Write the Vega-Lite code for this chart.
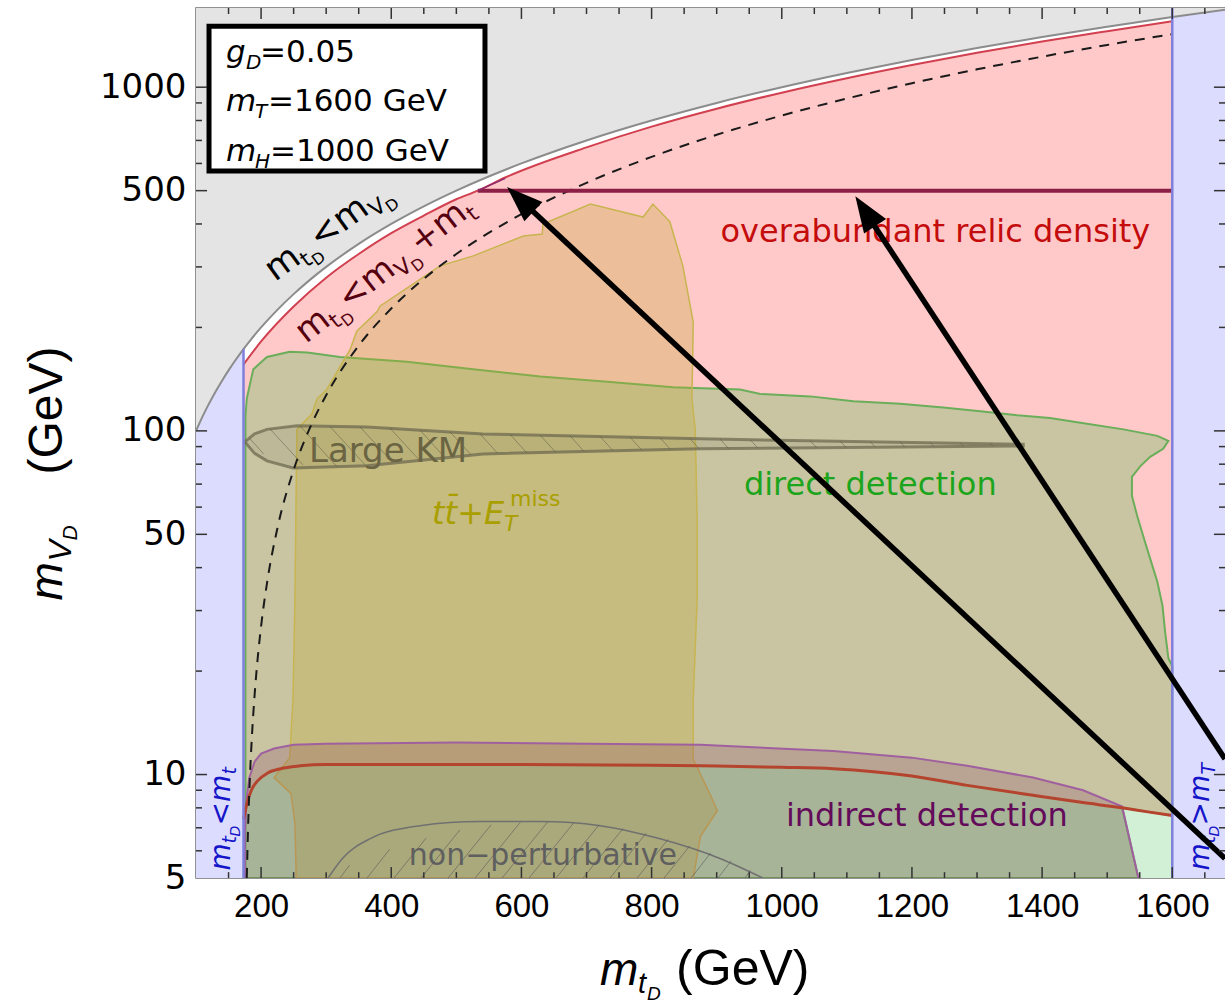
{
"$schema":"https://vega.github.io/schema/vega-lite/v6.json",
"width":1029,"height":870,"autosize":"none",
"padding":{"left":196,"top":8,"right":0,"bottom":125},
"background":"white",
"config":{"view":{"stroke":"#6e6e6e","strokeWidth":1.5},"axis":{"grid":false,"domain":false}},
"data":{"values":[{}]},
"datasets":{
"grayreg":[{"x":100,"y":100},{"x":110,"y":110},{"x":120,"y":120},{"x":130,"y":130},{"x":140,"y":140},{"x":150,"y":150},{"x":160,"y":160},{"x":173,"y":173},{"x":185,"y":185},{"x":200,"y":200},{"x":225,"y":225},{"x":250,"y":250},{"x":275,"y":275},{"x":300,"y":300},{"x":350,"y":350},{"x":400,"y":400},{"x":450,"y":450},{"x":500,"y":500},{"x":600,"y":600},{"x":700,"y":700},{"x":800,"y":800},{"x":900,"y":900},{"x":1000,"y":1000},{"x":1100,"y":1100},{"x":1200,"y":1200},{"x":1300,"y":1300},{"x":1400,"y":1400},{"x":1500,"y":1500},{"x":1600,"y":1600},{"x":1700,"y":1700},{"x":1700,"y":3000},{"x":100,"y":3000}],
"diag":[{"x":100,"y":100},{"x":110,"y":110},{"x":120,"y":120},{"x":130,"y":130},{"x":140,"y":140},{"x":150,"y":150},{"x":160,"y":160},{"x":173,"y":173},{"x":185,"y":185},{"x":200,"y":200},{"x":225,"y":225},{"x":250,"y":250},{"x":275,"y":275},{"x":300,"y":300},{"x":350,"y":350},{"x":400,"y":400},{"x":450,"y":450},{"x":500,"y":500},{"x":600,"y":600},{"x":700,"y":700},{"x":800,"y":800},{"x":900,"y":900},{"x":1000,"y":1000},{"x":1100,"y":1100},{"x":1200,"y":1200},{"x":1300,"y":1300},{"x":1400,"y":1400},{"x":1500,"y":1500},{"x":1600,"y":1600},{"x":1700,"y":1700}],
"blueL":[{"x":100,"y":5},{"x":173,"y":5},{"x":173,"y":173},{"x":160,"y":160},{"x":150,"y":150},{"x":140,"y":140},{"x":130,"y":130},{"x":120,"y":120},{"x":110,"y":110},{"x":100,"y":100}],
"blueR":[{"x":1600,"y":5},{"x":1700,"y":5},{"x":1700,"y":1700},{"x":1600,"y":1600}],
"greenbase":[{"x":173,"y":5},{"x":173,"y":7.4},{"x":178,"y":8.2},{"x":185,"y":9.0},{"x":195,"y":9.6},{"x":210,"y":10.1},{"x":230,"y":10.4},{"x":260,"y":10.6},{"x":300,"y":10.7},{"x":400,"y":10.7},{"x":600,"y":10.7},{"x":800,"y":10.65},{"x":875,"y":10.6},{"x":1000,"y":10.5},{"x":1079,"y":10.4},{"x":1200,"y":9.9},{"x":1285,"y":9.3},{"x":1386,"y":8.7},{"x":1460,"y":8.3},{"x":1523,"y":8.0},{"x":1560,"y":7.8},{"x":1600,"y":7.6},{"x":1600,"y":5}],
"redlow":[{"x":173,"y":7.4},{"x":178,"y":8.2},{"x":185,"y":9.0},{"x":195,"y":9.6},{"x":210,"y":10.1},{"x":230,"y":10.4},{"x":260,"y":10.6},{"x":300,"y":10.7},{"x":400,"y":10.7},{"x":600,"y":10.7},{"x":800,"y":10.65},{"x":875,"y":10.6},{"x":1000,"y":10.5},{"x":1079,"y":10.4},{"x":1200,"y":9.9},{"x":1285,"y":9.3},{"x":1386,"y":8.7},{"x":1460,"y":8.3},{"x":1523,"y":8.0},{"x":1560,"y":7.8},{"x":1600,"y":7.6}],
"redup":[{"x":173,"y":156},{"x":200,"y":182},{"x":250,"y":230},{"x":300,"y":279},{"x":350,"y":327},{"x":400,"y":376},{"x":450,"y":423},{"x":500,"y":472},{"x":533,"y":500},{"x":575,"y":546},{"x":700,"y":668},{"x":800,"y":768},{"x":900,"y":866},{"x":1000,"y":964},{"x":1100,"y":1062},{"x":1200,"y":1160},{"x":1300,"y":1260},{"x":1400,"y":1358},{"x":1500,"y":1455},{"x":1600,"y":1555}],
"pink":[{"x":173,"y":7.4},{"x":178,"y":8.2},{"x":185,"y":9.0},{"x":195,"y":9.6},{"x":210,"y":10.1},{"x":230,"y":10.4},{"x":260,"y":10.6},{"x":300,"y":10.7},{"x":400,"y":10.7},{"x":600,"y":10.7},{"x":800,"y":10.65},{"x":875,"y":10.6},{"x":1000,"y":10.5},{"x":1079,"y":10.4},{"x":1200,"y":9.9},{"x":1285,"y":9.3},{"x":1386,"y":8.7},{"x":1460,"y":8.3},{"x":1523,"y":8.0},{"x":1560,"y":7.8},{"x":1600,"y":7.6},{"x":1600,"y":1555},{"x":1500,"y":1455},{"x":1400,"y":1358},{"x":1300,"y":1260},{"x":1200,"y":1160},{"x":1100,"y":1062},{"x":1000,"y":964},{"x":900,"y":866},{"x":800,"y":768},{"x":700,"y":668},{"x":575,"y":546},{"x":533,"y":500},{"x":500,"y":472},{"x":450,"y":423},{"x":400,"y":376},{"x":350,"y":327},{"x":300,"y":279},{"x":250,"y":230},{"x":200,"y":182},{"x":173,"y":156}],
"direct":[{"x":176,"y":5},{"x":176,"y":110},{"x":178,"y":124},{"x":188,"y":151},{"x":209,"y":164},{"x":244,"y":170},{"x":271,"y":169},{"x":321,"y":164},{"x":424,"y":159},{"x":526,"y":151},{"x":629,"y":144},{"x":732,"y":139},{"x":833,"y":134},{"x":936,"y":132},{"x":967,"y":128},{"x":1044,"y":126},{"x":1110,"y":122},{"x":1182,"y":120},{"x":1248,"y":117},{"x":1305,"y":114},{"x":1362,"y":111},{"x":1412,"y":109},{"x":1454,"y":106},{"x":1525,"y":101},{"x":1577,"y":96.7},{"x":1594,"y":93.5},{"x":1586,"y":88.7},{"x":1566,"y":84},{"x":1551,"y":79},{"x":1538,"y":73.5},{"x":1538,"y":64.7},{"x":1546,"y":56.6},{"x":1558,"y":47.6},{"x":1566,"y":42.5},{"x":1577,"y":36.4},{"x":1585,"y":31},{"x":1589,"y":26},{"x":1594,"y":21.8},{"x":1600,"y":20.7},{"x":1600,"y":7.6},{"x":1523,"y":8.0},{"x":1548,"y":5},{"x":176,"y":5}],
"yellow":[{"x":286,"y":124},{"x":301,"y":132},{"x":337,"y":173},{"x":347,"y":195},{"x":378,"y":222},{"x":383,"y":231},{"x":475,"y":302},{"x":526,"y":323},{"x":603,"y":369},{"x":632,"y":374},{"x":633,"y":400},{"x":706,"y":457},{"x":787,"y":419},{"x":802,"y":457},{"x":828,"y":406},{"x":848,"y":302},{"x":864,"y":207},{"x":862,"y":124},{"x":867,"y":101},{"x":870,"y":55.5},{"x":870,"y":32.5},{"x":864,"y":16.6},{"x":864,"y":11.1},{"x":893,"y":8.5},{"x":901,"y":7.85},{"x":875,"y":6.6},{"x":864,"y":5},{"x":254,"y":5},{"x":252,"y":7.2},{"x":246,"y":8.8},{"x":220,"y":9.8},{"x":244,"y":11.2},{"x":249,"y":16.6},{"x":252,"y":32.5},{"x":255,"y":101},{"x":278,"y":112},{"x":286,"y":124}],
"indirect":[{"x":175,"y":5},{"x":175,"y":6.8},{"x":178,"y":8.6},{"x":182,"y":9.8},{"x":190,"y":10.9},{"x":200,"y":11.5},{"x":220,"y":11.9},{"x":250,"y":12.2},{"x":300,"y":12.3},{"x":500,"y":12.4},{"x":700,"y":12.3},{"x":875,"y":12.2},{"x":1079,"y":11.7},{"x":1200,"y":11.2},{"x":1285,"y":10.6},{"x":1386,"y":9.8},{"x":1463,"y":9.0},{"x":1523,"y":8.07},{"x":1548,"y":5}],
"lens":[{"x":175,"y":92.9},{"x":190,"y":98},{"x":209,"y":101},{"x":255,"y":103.5},{"x":363,"y":102.7},{"x":541,"y":98},{"x":875,"y":94.8},{"x":1371,"y":91.4},{"x":1371,"y":90.4},{"x":875,"y":88.7},{"x":541,"y":85.7},{"x":363,"y":79.1},{"x":249,"y":78},{"x":209,"y":81.8},{"x":190,"y":86},{"x":175,"y":92.9}],
"nonpert":[{"x":303,"y":5},{"x":325,"y":5.7},{"x":367,"y":6.5},{"x":444,"y":7.1},{"x":536,"y":7.3},{"x":629,"y":7.3},{"x":721,"y":7.1},{"x":813,"y":6.5},{"x":905,"y":5.7},{"x":971,"y":5}],
"hatchNP":[{"x":321.3,"y":5,"x2":335.9,"y2":5.45},{"x":362.8,"y":5,"x2":397.5,"y2":6.06},{"x":404.3,"y":5,"x2":453.8,"y2":6.54},{"x":445.8,"y":5,"x2":505.4,"y2":6.9},{"x":487.3,"y":5,"x2":553.4,"y2":7.14},{"x":528.8,"y":5,"x2":598.2,"y2":7.26},{"x":570.3,"y":5,"x2":640.6,"y2":7.29},{"x":611.8,"y":5,"x2":680.9,"y2":7.26},{"x":653.3,"y":5,"x2":719.3,"y2":7.14},{"x":694.7,"y":5,"x2":756.2,"y2":6.97},{"x":736.2,"y":5,"x2":791.6,"y2":6.75},{"x":777.7,"y":5,"x2":825.4,"y2":6.48},{"x":819.2,"y":5,"x2":858.6,"y2":6.2},{"x":860.7,"y":5,"x2":890.7,"y2":5.91},{"x":902.2,"y":5,"x2":922.2,"y2":5.61},{"x":943.7,"y":5,"x2":951.8,"y2":5.27}],
"hatchKM":[{"x":183,"y":94.8,"x2":203.9,"y2":85.7},{"x":213.7,"y":101.3,"x2":264.4,"y2":79.6},{"x":259.8,"y":103.4,"x2":316.7,"y2":78.6},{"x":305.9,"y":103.0,"x2":361.3,"y2":79.1},{"x":352,"y":102.7,"x2":402.8,"y2":80.7},{"x":398.1,"y":101.8,"x2":442.7,"y2":82.4},{"x":444.2,"y":100.5,"x2":482.7,"y2":83.5},{"x":490.3,"y":99.3,"x2":522.6,"y2":85.2},{"x":536.4,"y":98.0,"x2":563.3,"y2":86.1},{"x":582.6,"y":97.6,"x2":608.2,"y2":86.3},{"x":628.7,"y":97.2,"x2":652.5,"y2":86.7},{"x":674.8,"y":96.7,"x2":696.3,"y2":87.1},{"x":720.9,"y":96.3,"x2":740.8,"y2":87.5},{"x":767,"y":95.8,"x2":785,"y2":87.9},{"x":813.1,"y":95.4,"x2":829.2,"y2":88.3},{"x":859.2,"y":94.9,"x2":873,"y2":88.7},{"x":905.3,"y":94.6,"x2":918.4,"y2":88.8},{"x":951.4,"y":94.3,"x2":963.7,"y2":88.9},{"x":997.5,"y":94.0,"x2":1008.9,"y2":89.1},{"x":1043.6,"y":93.7,"x2":1053.8,"y2":89.2},{"x":1089.7,"y":93.4,"x2":1098.9,"y2":89.4},{"x":1135.8,"y":93.1,"x2":1143.9,"y2":89.6},{"x":1181.9,"y":92.8,"x2":1188.8,"y2":89.8},{"x":1228,"y":92.5,"x2":1234.2,"y2":89.9},{"x":1274.1,"y":92.3,"x2":1279.2,"y2":90.1},{"x":1320.2,"y":92.0,"x2":1324.1,"y2":90.3}],
"dashed":[{"x":178,"y":5},{"x":180,"y":7},{"x":183,"y":10},{"x":186,"y":13},{"x":190,"y":17},{"x":195,"y":22},{"x":200,"y":27},{"x":210,"y":37},{"x":225,"y":52},{"x":250,"y":77},{"x":275,"y":102},{"x":300,"y":127},{"x":350,"y":177},{"x":400,"y":227},{"x":450,"y":277},{"x":500,"y":327},{"x":600,"y":427},{"x":700,"y":527},{"x":800,"y":627},{"x":900,"y":727},{"x":1000,"y":827},{"x":1100,"y":927},{"x":1200,"y":1027},{"x":1300,"y":1127},{"x":1400,"y":1227},{"x":1500,"y":1327},{"x":1600,"y":1427}],
"line500":[{"x":533,"y":500},{"x":1600,"y":500}],
"sliver":[{"x":533,"y":500},{"x":575,"y":543}],
"bluelines":[{"x":173,"y":5,"g":"a"},{"x":173,"y":173,"g":"a"},{"x":1600,"y":5,"g":"b"},{"x":1600,"y":1700,"g":"b"}],
"arrowA":[{"x":1681,"y":11.1},{"x":1129.6,"y":430}],
"arrowB":[{"x":1681,"y":5.7},{"x":600.4,"y":467}],
"xmaj":[{"v":200},{"v":400},{"v":600},{"v":800},{"v":1000},{"v":1200},{"v":1400},{"v":1600}],
"xmin":[{"v":150},{"v":250},{"v":300},{"v":350},{"v":450},{"v":500},{"v":550},{"v":650},{"v":700},{"v":750},{"v":850},{"v":900},{"v":950},{"v":1050},{"v":1100},{"v":1150},{"v":1250},{"v":1300},{"v":1350},{"v":1450},{"v":1500},{"v":1550},{"v":1650}],
"ymaj":[{"v":10},{"v":50},{"v":100},{"v":500},{"v":1000}],
"ymin":[{"v":6},{"v":7},{"v":8},{"v":9},{"v":20},{"v":30},{"v":40},{"v":60},{"v":70},{"v":80},{"v":90},{"v":200},{"v":300},{"v":400},{"v":600},{"v":700},{"v":800},{"v":900}]
},
"layer":[
{"data":{"name":"grayreg"},"transform":[{"window":[{"op":"row_number","as":"i"}]}],"mark":{"type":"line","fill":"#e4e4e4","stroke":"#e4e4e4","strokeWidth":0.5,"clip":true},"encoding":{"x":{"field":"x","type":"quantitative","scale":{"domain":[100,1681],"nice":false,"zero":false},"axis":null},"y":{"field":"y","type":"quantitative","scale":{"type":"log","domain":[5,1700],"nice":false},"axis":null},"order":{"field":"i","type":"quantitative"}}},
{"data":{"name":"blueL"},"transform":[{"window":[{"op":"row_number","as":"i"}]}],"mark":{"type":"line","fill":"#dcdcff","stroke":"#dcdcff","strokeWidth":0.5,"clip":true},"encoding":{"x":{"field":"x","type":"quantitative","axis":null},"y":{"field":"y","type":"quantitative","axis":null},"order":{"field":"i","type":"quantitative"}}},
{"data":{"name":"blueR"},"transform":[{"window":[{"op":"row_number","as":"i"}]}],"mark":{"type":"line","fill":"#dcdcff","stroke":"#dcdcff","strokeWidth":0.5,"clip":true},"encoding":{"x":{"field":"x","type":"quantitative","axis":null},"y":{"field":"y","type":"quantitative","axis":null},"order":{"field":"i","type":"quantitative"}}},
{"data":{"name":"greenbase"},"transform":[{"window":[{"op":"row_number","as":"i"}]}],"mark":{"type":"line","fill":"#d2f0d6","stroke":"#d2f0d6","strokeWidth":0.5,"clip":true},"encoding":{"x":{"field":"x","type":"quantitative","axis":null},"y":{"field":"y","type":"quantitative","axis":null},"order":{"field":"i","type":"quantitative"}}},
{"data":{"name":"pink"},"transform":[{"window":[{"op":"row_number","as":"i"}]}],"mark":{"type":"line","fill":"#ffc9c9","stroke":"#ffc9c9","strokeWidth":0.5,"clip":true},"encoding":{"x":{"field":"x","type":"quantitative","axis":null},"y":{"field":"y","type":"quantitative","axis":null},"order":{"field":"i","type":"quantitative"}}},
{"data":{"name":"direct"},"transform":[{"window":[{"op":"row_number","as":"i"}]}],"mark":{"type":"line","fill":"#87c174","fillOpacity":0.45,"stroke":"#6aae5a","strokeWidth":2,"clip":true},"encoding":{"x":{"field":"x","type":"quantitative","axis":null},"y":{"field":"y","type":"quantitative","axis":null},"order":{"field":"i","type":"quantitative"}}},
{"data":{"name":"yellow"},"transform":[{"window":[{"op":"row_number","as":"i"}]}],"mark":{"type":"line","fill":"#c0a830","fillOpacity":0.3,"stroke":"#c8b450","strokeWidth":1.5,"clip":true},"encoding":{"x":{"field":"x","type":"quantitative","axis":null},"y":{"field":"y","type":"quantitative","axis":null},"order":{"field":"i","type":"quantitative"}}},
{"data":{"name":"indirect"},"transform":[{"window":[{"op":"row_number","as":"i"}]}],"mark":{"type":"line","fill":"#8d3f64","fillOpacity":0.25,"stroke":"#a060a0","strokeWidth":2,"clip":true},"encoding":{"x":{"field":"x","type":"quantitative","axis":null},"y":{"field":"y","type":"quantitative","axis":null},"order":{"field":"i","type":"quantitative"}}},
{"data":{"name":"nonpert"},"mark":{"type":"line","stroke":"#707070","strokeWidth":1.5,"interpolate":"monotone","clip":true},"encoding":{"x":{"field":"x","type":"quantitative","axis":null},"y":{"field":"y","type":"quantitative","axis":null}}},
{"data":{"name":"hatchNP"},"mark":{"type":"rule","stroke":"#5a5a5a","strokeWidth":1,"opacity":0.6,"clip":true},"encoding":{"x":{"field":"x","type":"quantitative","axis":null},"y":{"field":"y","type":"quantitative","axis":null},"x2":{"field":"x2"},"y2":{"field":"y2"}}},
{"data":{"name":"lens"},"transform":[{"window":[{"op":"row_number","as":"i"}]}],"mark":{"type":"line","fill":"#5a5a40","fillOpacity":0.1,"stroke":"#6e6a50","strokeOpacity":0.75,"strokeWidth":3,"clip":true},"encoding":{"x":{"field":"x","type":"quantitative","axis":null},"y":{"field":"y","type":"quantitative","axis":null},"order":{"field":"i","type":"quantitative"}}},
{"data":{"name":"hatchKM"},"mark":{"type":"rule","stroke":"#5a5840","strokeWidth":1,"opacity":0.5,"clip":true},"encoding":{"x":{"field":"x","type":"quantitative","axis":null},"y":{"field":"y","type":"quantitative","axis":null},"x2":{"field":"x2"},"y2":{"field":"y2"}}},
{"data":{"name":"redlow"},"mark":{"type":"line","stroke":"#b5442e","strokeWidth":3,"interpolate":"monotone","clip":true},"encoding":{"x":{"field":"x","type":"quantitative","axis":null},"y":{"field":"y","type":"quantitative","axis":null}}},
{"data":{"name":"redup"},"mark":{"type":"line","stroke":"#d24050","strokeWidth":2,"interpolate":"monotone","clip":true},"encoding":{"x":{"field":"x","type":"quantitative","axis":null},"y":{"field":"y","type":"quantitative","axis":null}}},
{"data":{"name":"diag"},"mark":{"type":"line","stroke":"#8c8c8c","strokeWidth":2,"interpolate":"monotone","clip":true},"encoding":{"x":{"field":"x","type":"quantitative","axis":null},"y":{"field":"y","type":"quantitative","axis":null}}},
{"data":{"name":"dashed"},"mark":{"type":"line","stroke":"#1a1a1a","strokeWidth":2,"strokeDash":[10,8],"interpolate":"monotone","clip":true},"encoding":{"x":{"field":"x","type":"quantitative","axis":null},"y":{"field":"y","type":"quantitative","axis":null}}},
{"data":{"name":"line500"},"mark":{"type":"line","stroke":"#8c1f45","strokeWidth":4,"clip":true},"encoding":{"x":{"field":"x","type":"quantitative","axis":null},"y":{"field":"y","type":"quantitative","axis":null}}},
{"data":{"name":"sliver"},"mark":{"type":"line","stroke":"#8c2a70","strokeWidth":1.5,"clip":true},"encoding":{"x":{"field":"x","type":"quantitative","axis":null},"y":{"field":"y","type":"quantitative","axis":null}}},
{"data":{"name":"bluelines"},"mark":{"type":"line","stroke":"#7f7fdc","strokeWidth":2.5,"clip":true},"encoding":{"x":{"field":"x","type":"quantitative","axis":null},"y":{"field":"y","type":"quantitative","axis":null},"detail":{"field":"g","type":"nominal"}}},
{"mark":{"type":"text","text":"overabundant relic density","font":"DejaVu Sans","fontSize":32,"color":"#c40c0c","align":"center","baseline":"middle"},"encoding":{"x":{"datum":1236,"type":"quantitative","axis":null},"y":{"datum":379,"type":"quantitative","axis":null}}},
{"mark":{"type":"text","text":"direct detection","font":"DejaVu Sans","fontSize":32,"color":"#1ca51c","align":"center","baseline":"middle"},"encoding":{"x":{"datum":1136,"type":"quantitative","axis":null},"y":{"datum":69.7,"type":"quantitative","axis":null}}},
{"mark":{"type":"text","text":"indirect detection","font":"DejaVu Sans","fontSize":32,"color":"#640a5a","align":"center","baseline":"middle"},"encoding":{"x":{"datum":1223,"type":"quantitative","axis":null},"y":{"datum":7.55,"type":"quantitative","axis":null}}},
{"mark":{"type":"text","text":"non−perturbative","font":"DejaVu Sans","fontSize":30,"color":"#5f5f5f","align":"center","baseline":"middle"},"encoding":{"x":{"datum":633,"type":"quantitative","axis":null},"y":{"datum":5.8,"type":"quantitative","axis":null}}},
{"mark":{"type":"text","text":"Large KM","font":"DejaVu Sans","fontSize":34,"color":"#6a6442","align":"center","baseline":"middle"},"encoding":{"x":{"datum":395,"type":"quantitative","axis":null},"y":{"datum":86.9,"type":"quantitative","axis":null}}},
{"mark":{"type":"text","text":"tt̄+E","font":"DejaVu Sans","fontStyle":"italic","fontSize":32,"color":"#a99f00","align":"left","baseline":"alphabetic"},"encoding":{"x":{"datum":462.7,"type":"quantitative","axis":null},"y":{"datum":53.7,"type":"quantitative","axis":null}}},
{"mark":{"type":"text","text":"T","font":"DejaVu Sans","fontStyle":"italic","fontSize":22,"color":"#a99f00","align":"left","baseline":"alphabetic","dx":72,"dy":7},"encoding":{"x":{"datum":462.7,"type":"quantitative","axis":null},"y":{"datum":53.7,"type":"quantitative","axis":null}}},
{"mark":{"type":"text","text":"miss","font":"DejaVu Sans","fontSize":22,"color":"#a99f00","align":"left","baseline":"alphabetic","dx":78,"dy":-18},"encoding":{"x":{"datum":462.7,"type":"quantitative","axis":null},"y":{"datum":53.7,"type":"quantitative","axis":null}}},
{"mark":{"type":"text","text":"m","font":"DejaVu Sans","fontSize":35,"color":"#000","align":"left","baseline":"alphabetic","angle":-36},"encoding":{"x":{"datum":221.4,"type":"quantitative","axis":null},"y":{"datum":271,"type":"quantitative","axis":null}}},
{"mark":{"type":"text","text":"t","font":"DejaVu Sans","fontSize":22,"color":"#000","align":"left","baseline":"alphabetic","angle":-36,"dx":34,"dy":7},"encoding":{"x":{"datum":221.4,"type":"quantitative","axis":null},"y":{"datum":271,"type":"quantitative","axis":null}}},
{"mark":{"type":"text","text":"D","font":"DejaVu Sans","fontSize":16,"color":"#000","align":"left","baseline":"alphabetic","angle":-36,"dx":43,"dy":12},"encoding":{"x":{"datum":221.4,"type":"quantitative","axis":null},"y":{"datum":271,"type":"quantitative","axis":null}}},
{"mark":{"type":"text","text":"<m","font":"DejaVu Sans","fontSize":35,"color":"#000","align":"left","baseline":"alphabetic","angle":-36,"dx":55},"encoding":{"x":{"datum":221.4,"type":"quantitative","axis":null},"y":{"datum":271,"type":"quantitative","axis":null}}},
{"mark":{"type":"text","text":"V","font":"DejaVu Sans","fontSize":22,"color":"#000","align":"left","baseline":"alphabetic","angle":-36,"dx":119,"dy":7},"encoding":{"x":{"datum":221.4,"type":"quantitative","axis":null},"y":{"datum":271,"type":"quantitative","axis":null}}},
{"mark":{"type":"text","text":"D","font":"DejaVu Sans","fontSize":16,"color":"#000","align":"left","baseline":"alphabetic","angle":-36,"dx":134,"dy":12},"encoding":{"x":{"datum":221.4,"type":"quantitative","axis":null},"y":{"datum":271,"type":"quantitative","axis":null}}},
{"mark":{"type":"text","text":"m","font":"DejaVu Sans","fontSize":34,"color":"#55000f","align":"left","baseline":"alphabetic","angle":-38},"encoding":{"x":{"datum":269,"type":"quantitative","axis":null},"y":{"datum":179,"type":"quantitative","axis":null}}},
{"mark":{"type":"text","text":"t","font":"DejaVu Sans","fontSize":22,"color":"#55000f","align":"left","baseline":"alphabetic","angle":-38,"dx":33,"dy":7},"encoding":{"x":{"datum":269,"type":"quantitative","axis":null},"y":{"datum":179,"type":"quantitative","axis":null}}},
{"mark":{"type":"text","text":"D","font":"DejaVu Sans","fontSize":16,"color":"#55000f","align":"left","baseline":"alphabetic","angle":-38,"dx":42,"dy":12},"encoding":{"x":{"datum":269,"type":"quantitative","axis":null},"y":{"datum":179,"type":"quantitative","axis":null}}},
{"mark":{"type":"text","text":"<m","font":"DejaVu Sans","fontSize":34,"color":"#55000f","align":"left","baseline":"alphabetic","angle":-38,"dx":54},"encoding":{"x":{"datum":269,"type":"quantitative","axis":null},"y":{"datum":179,"type":"quantitative","axis":null}}},
{"mark":{"type":"text","text":"V","font":"DejaVu Sans","fontSize":22,"color":"#55000f","align":"left","baseline":"alphabetic","angle":-38,"dx":116,"dy":7},"encoding":{"x":{"datum":269,"type":"quantitative","axis":null},"y":{"datum":179,"type":"quantitative","axis":null}}},
{"mark":{"type":"text","text":"D","font":"DejaVu Sans","fontSize":16,"color":"#55000f","align":"left","baseline":"alphabetic","angle":-38,"dx":131,"dy":12},"encoding":{"x":{"datum":269,"type":"quantitative","axis":null},"y":{"datum":179,"type":"quantitative","axis":null}}},
{"mark":{"type":"text","text":"+m","font":"DejaVu Sans","fontSize":34,"color":"#55000f","align":"left","baseline":"alphabetic","angle":-38,"dx":145},"encoding":{"x":{"datum":269,"type":"quantitative","axis":null},"y":{"datum":179,"type":"quantitative","axis":null}}},
{"mark":{"type":"text","text":"t","font":"DejaVu Sans","fontSize":22,"color":"#55000f","align":"left","baseline":"alphabetic","angle":-38,"dx":207,"dy":7},"encoding":{"x":{"datum":269,"type":"quantitative","axis":null},"y":{"datum":179,"type":"quantitative","axis":null}}},
{"mark":{"type":"text","text":"m","font":"DejaVu Sans","fontStyle":"italic","fontSize":28,"color":"#1414c8","align":"left","baseline":"alphabetic","angle":-90},"encoding":{"x":{"datum":152,"type":"quantitative","axis":null},"y":{"datum":5.26,"type":"quantitative","axis":null}}},
{"mark":{"type":"text","text":"t","font":"DejaVu Sans","fontStyle":"italic","fontSize":19,"color":"#1414c8","align":"left","baseline":"alphabetic","angle":-90,"dx":27,"dy":6},"encoding":{"x":{"datum":152,"type":"quantitative","axis":null},"y":{"datum":5.26,"type":"quantitative","axis":null}}},
{"mark":{"type":"text","text":"D","font":"DejaVu Sans","fontStyle":"italic","fontSize":14,"color":"#1414c8","align":"left","baseline":"alphabetic","angle":-90,"dx":34,"dy":10},"encoding":{"x":{"datum":152,"type":"quantitative","axis":null},"y":{"datum":5.26,"type":"quantitative","axis":null}}},
{"mark":{"type":"text","text":"<m","font":"DejaVu Sans","fontStyle":"italic","fontSize":28,"color":"#1414c8","align":"left","baseline":"alphabetic","angle":-90,"dx":45},"encoding":{"x":{"datum":152,"type":"quantitative","axis":null},"y":{"datum":5.26,"type":"quantitative","axis":null}}},
{"mark":{"type":"text","text":"t","font":"DejaVu Sans","fontStyle":"italic","fontSize":19,"color":"#1414c8","align":"left","baseline":"alphabetic","angle":-90,"dx":96,"dy":6},"encoding":{"x":{"datum":152,"type":"quantitative","axis":null},"y":{"datum":5.26,"type":"quantitative","axis":null}}},
{"mark":{"type":"text","text":"m","font":"DejaVu Sans","fontStyle":"italic","fontSize":28,"color":"#1414c8","align":"left","baseline":"alphabetic","angle":-90},"encoding":{"x":{"datum":1657,"type":"quantitative","axis":null},"y":{"datum":5.26,"type":"quantitative","axis":null}}},
{"mark":{"type":"text","text":"t","font":"DejaVu Sans","fontStyle":"italic","fontSize":19,"color":"#1414c8","align":"left","baseline":"alphabetic","angle":-90,"dx":27,"dy":6},"encoding":{"x":{"datum":1657,"type":"quantitative","axis":null},"y":{"datum":5.26,"type":"quantitative","axis":null}}},
{"mark":{"type":"text","text":"D","font":"DejaVu Sans","fontStyle":"italic","fontSize":14,"color":"#1414c8","align":"left","baseline":"alphabetic","angle":-90,"dx":34,"dy":10},"encoding":{"x":{"datum":1657,"type":"quantitative","axis":null},"y":{"datum":5.26,"type":"quantitative","axis":null}}},
{"mark":{"type":"text","text":">m","font":"DejaVu Sans","fontStyle":"italic","fontSize":28,"color":"#1414c8","align":"left","baseline":"alphabetic","angle":-90,"dx":45},"encoding":{"x":{"datum":1657,"type":"quantitative","axis":null},"y":{"datum":5.26,"type":"quantitative","axis":null}}},
{"mark":{"type":"text","text":"T","font":"DejaVu Sans","fontStyle":"italic","fontSize":19,"color":"#1414c8","align":"left","baseline":"alphabetic","angle":-90,"dx":96,"dy":6},"encoding":{"x":{"datum":1657,"type":"quantitative","axis":null},"y":{"datum":5.26,"type":"quantitative","axis":null}}},
{"mark":{"type":"rect","fill":"white","stroke":"black","strokeWidth":5},"encoding":{"x":{"datum":120,"type":"quantitative","axis":null},"x2":{"datum":544},"y":{"datum":1504,"type":"quantitative","axis":null},"y2":{"datum":570}}},
{"mark":{"type":"text","text":"g","font":"DejaVu Sans","fontStyle":"italic","fontSize":31,"color":"#000","align":"left","baseline":"alphabetic"},"encoding":{"x":{"datum":146,"type":"quantitative","axis":null},"y":{"datum":1182,"type":"quantitative","axis":null}}},
{"mark":{"type":"text","text":"D","font":"DejaVu Sans","fontStyle":"italic","fontSize":20,"color":"#000","align":"left","baseline":"alphabetic","dx":20,"dy":7},"encoding":{"x":{"datum":146,"type":"quantitative","axis":null},"y":{"datum":1182,"type":"quantitative","axis":null}}},
{"mark":{"type":"text","text":"=0.05","font":"DejaVu Sans","fontSize":31,"color":"#000","align":"left","baseline":"alphabetic","dx":34},"encoding":{"x":{"datum":146,"type":"quantitative","axis":null},"y":{"datum":1182,"type":"quantitative","axis":null}}},
{"mark":{"type":"text","text":"m","font":"DejaVu Sans","fontStyle":"italic","fontSize":31,"color":"#000","align":"left","baseline":"alphabetic"},"encoding":{"x":{"datum":146,"type":"quantitative","axis":null},"y":{"datum":852,"type":"quantitative","axis":null}}},
{"mark":{"type":"text","text":"T","font":"DejaVu Sans","fontStyle":"italic","fontSize":20,"color":"#000","align":"left","baseline":"alphabetic","dx":29,"dy":7},"encoding":{"x":{"datum":146,"type":"quantitative","axis":null},"y":{"datum":852,"type":"quantitative","axis":null}}},
{"mark":{"type":"text","text":"=1600 GeV","font":"DejaVu Sans","fontSize":31,"color":"#000","align":"left","baseline":"alphabetic","dx":42},"encoding":{"x":{"datum":146,"type":"quantitative","axis":null},"y":{"datum":852,"type":"quantitative","axis":null}}},
{"mark":{"type":"text","text":"m","font":"DejaVu Sans","fontStyle":"italic","fontSize":31,"color":"#000","align":"left","baseline":"alphabetic"},"encoding":{"x":{"datum":146,"type":"quantitative","axis":null},"y":{"datum":609,"type":"quantitative","axis":null}}},
{"mark":{"type":"text","text":"H","font":"DejaVu Sans","fontStyle":"italic","fontSize":20,"color":"#000","align":"left","baseline":"alphabetic","dx":29,"dy":7},"encoding":{"x":{"datum":146,"type":"quantitative","axis":null},"y":{"datum":609,"type":"quantitative","axis":null}}},
{"mark":{"type":"text","text":"=1000 GeV","font":"DejaVu Sans","fontSize":31,"color":"#000","align":"left","baseline":"alphabetic","dx":44},"encoding":{"x":{"datum":146,"type":"quantitative","axis":null},"y":{"datum":609,"type":"quantitative","axis":null}}},
{"data":{"name":"arrowA"},"mark":{"type":"line","stroke":"#000","strokeWidth":5.5,"clip":true},"encoding":{"x":{"field":"x","type":"quantitative","axis":null},"y":{"field":"y","type":"quantitative","axis":null}}},
{"data":{"name":"arrowB"},"mark":{"type":"line","stroke":"#000","strokeWidth":5.5,"clip":true},"encoding":{"x":{"field":"x","type":"quantitative","axis":null},"y":{"field":"y","type":"quantitative","axis":null}}},
{"mark":{"type":"point","shape":"M0,0L0.55,1.5L-0.55,1.5Z","size":2304,"filled":true,"color":"#000","opacity":1,"angle":-33.3},"encoding":{"x":{"datum":1113,"type":"quantitative","axis":null},"y":{"datum":482,"type":"quantitative","axis":null}}},
{"mark":{"type":"point","shape":"M0,0L0.55,1.5L-0.55,1.5Z","size":2304,"filled":true,"color":"#000","opacity":1,"angle":-46.9},"encoding":{"x":{"datum":578,"type":"quantitative","axis":null},"y":{"datum":512,"type":"quantitative","axis":null}}},
{"data":{"name":"xmaj"},"mark":{"type":"rule","stroke":"#333","strokeWidth":1.5,"clip":true},"encoding":{"x":{"field":"v","type":"quantitative","axis":null},"y":{"datum":5,"type":"quantitative","axis":null},"y2":{"datum":5.38}}},
{"data":{"name":"xmaj"},"mark":{"type":"rule","stroke":"#333","strokeWidth":1.5,"clip":true},"encoding":{"x":{"field":"v","type":"quantitative","axis":null},"y":{"datum":1700,"type":"quantitative","axis":null},"y2":{"datum":1580}}},
{"data":{"name":"xmin"},"mark":{"type":"rule","stroke":"#333","strokeWidth":1.5,"clip":true},"encoding":{"x":{"field":"v","type":"quantitative","axis":null},"y":{"datum":5,"type":"quantitative","axis":null},"y2":{"datum":5.2}}},
{"data":{"name":"xmin"},"mark":{"type":"rule","stroke":"#333","strokeWidth":1.5,"clip":true},"encoding":{"x":{"field":"v","type":"quantitative","axis":null},"y":{"datum":1700,"type":"quantitative","axis":null},"y2":{"datum":1633}}},
{"data":{"name":"ymaj"},"mark":{"type":"rule","stroke":"#333","strokeWidth":1.5,"clip":true},"encoding":{"y":{"field":"v","type":"quantitative","axis":null},"x":{"datum":100,"type":"quantitative","axis":null},"x2":{"datum":117}}},
{"data":{"name":"ymaj"},"mark":{"type":"rule","stroke":"#333","strokeWidth":1.5,"clip":true},"encoding":{"y":{"field":"v","type":"quantitative","axis":null},"x":{"datum":1681,"type":"quantitative","axis":null},"x2":{"datum":1664}}},
{"data":{"name":"ymin"},"mark":{"type":"rule","stroke":"#333","strokeWidth":1.5,"clip":true},"encoding":{"y":{"field":"v","type":"quantitative","axis":null},"x":{"datum":100,"type":"quantitative","axis":null},"x2":{"datum":109.2}}},
{"data":{"name":"ymin"},"mark":{"type":"rule","stroke":"#333","strokeWidth":1.5,"clip":true},"encoding":{"y":{"field":"v","type":"quantitative","axis":null},"x":{"datum":1681,"type":"quantitative","axis":null},"x2":{"datum":1671.8}}},
{"mark":{"type":"text","text":"m","font":"Liberation Sans","fontStyle":"italic","fontSize":46,"color":"#000","align":"left","baseline":"alphabetic","dy":107},"encoding":{"x":{"datum":720.9,"type":"quantitative","axis":null},"y":{"datum":5,"type":"quantitative","axis":null}}},
{"mark":{"type":"text","text":"t","font":"Liberation Sans","fontStyle":"italic","fontSize":29,"color":"#000","align":"left","baseline":"alphabetic","dx":38,"dy":115},"encoding":{"x":{"datum":720.9,"type":"quantitative","axis":null},"y":{"datum":5,"type":"quantitative","axis":null}}},
{"mark":{"type":"text","text":"D","font":"Liberation Sans","fontStyle":"italic","fontSize":19,"color":"#000","align":"left","baseline":"alphabetic","dx":47,"dy":122},"encoding":{"x":{"datum":720.9,"type":"quantitative","axis":null},"y":{"datum":5,"type":"quantitative","axis":null}}},
{"mark":{"type":"text","text":"(GeV)","font":"Liberation Sans","fontSize":50,"color":"#000","align":"left","baseline":"alphabetic","dx":76,"dy":107},"encoding":{"x":{"datum":720.9,"type":"quantitative","axis":null},"y":{"datum":5,"type":"quantitative","axis":null}}},
{"mark":{"type":"text","text":"m","font":"Liberation Sans","fontStyle":"italic","fontSize":46,"color":"#000","align":"left","baseline":"alphabetic","angle":-90,"dy":-134},"encoding":{"x":{"datum":100,"type":"quantitative","axis":null},"y":{"datum":32.1,"type":"quantitative","axis":null}}},
{"mark":{"type":"text","text":"V","font":"Liberation Sans","fontStyle":"italic","fontSize":32,"color":"#000","align":"left","baseline":"alphabetic","angle":-90,"dx":39,"dy":-125},"encoding":{"x":{"datum":100,"type":"quantitative","axis":null},"y":{"datum":32.1,"type":"quantitative","axis":null}}},
{"mark":{"type":"text","text":"D","font":"Liberation Sans","fontStyle":"italic","fontSize":21,"color":"#000","align":"left","baseline":"alphabetic","angle":-90,"dx":60,"dy":-119},"encoding":{"x":{"datum":100,"type":"quantitative","axis":null},"y":{"datum":32.1,"type":"quantitative","axis":null}}},
{"mark":{"type":"text","text":"(GeV)","font":"Liberation Sans","fontSize":48,"color":"#000","align":"left","baseline":"alphabetic","angle":-90,"dx":126,"dy":-134},"encoding":{"x":{"datum":100,"type":"quantitative","axis":null},"y":{"datum":32.1,"type":"quantitative","axis":null}}},
{"mark":{"type":"point","opacity":0},"encoding":{"x":{"datum":500,"type":"quantitative","axis":{"orient":"bottom","values":[200,400,600,800,1000,1200,1400,1600],"format":"d","ticks":false,"domain":false,"labelFont":"Liberation Sans","labelFontSize":33,"labelColor":"#000","labelPadding":12,"title":null}},"y":{"datum":100,"type":"quantitative","axis":null}}},
{"mark":{"type":"point","opacity":0},"encoding":{"x":{"datum":500,"type":"quantitative","axis":null},"y":{"datum":100,"type":"quantitative","axis":{"orient":"left","values":[5,10,50,100,500,1000],"format":"d","ticks":false,"domain":false,"labelFont":"DejaVu Sans","labelFontSize":34,"labelColor":"#000","labelPadding":10,"title":null}}}}
],
"resolve":{"axis":{"x":"independent","y":"independent"}}
}
